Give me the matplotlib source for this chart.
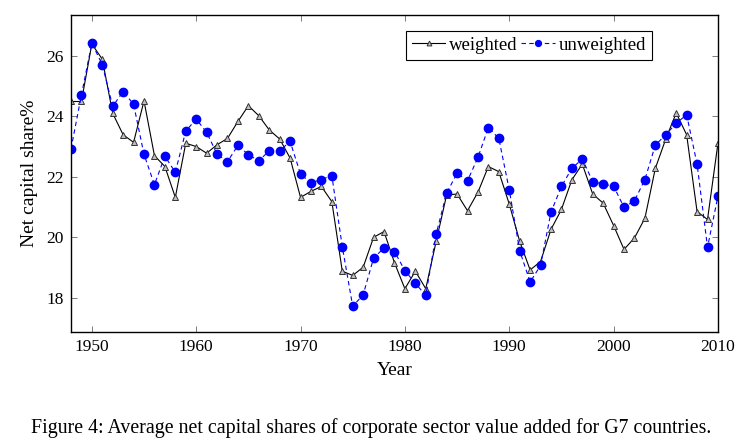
import numpy as np
import matplotlib
matplotlib.use("Agg")
import matplotlib.pyplot as plt

plt.rcParams['font.family'] = ['Liberation Serif', 'DejaVu Serif']
plt.rcParams['mathtext.fontset'] = 'stix'

years = np.arange(1948, 2011)

weighted = [24.49, 24.49, 26.39, 25.89, 24.10, 23.39, 23.14, 24.51, 22.70, 22.34,
            21.32, 23.11, 23.00, 22.78, 23.06, 23.27, 23.83, 24.35, 24.02, 23.55,
            23.25, 22.62, 21.32, 21.52, 21.68, 21.18, 18.88, 18.74, 19.01, 20.00,
            20.19, 19.16, 18.30, 18.88, 18.30, 19.87, 21.40, 21.43, 20.88, 21.49,
            22.34, 22.17, 21.10, 19.87, 18.92, 19.20, 20.26, 20.92, 21.90, 22.42,
            21.43, 21.13, 20.39, 19.60, 19.98, 20.63, 22.28, 23.25, 24.11, 23.39,
            20.85, 20.59, 23.11]

unweighted = [22.92, 24.70, 26.42, 25.71, 24.33, 24.82, 24.40, 22.74, 21.74, 22.68,
              22.15, 23.51, 23.91, 23.47, 22.75, 22.50, 23.04, 22.73, 22.53, 22.86,
              22.86, 23.17, 22.09, 21.80, 21.91, 22.04, 19.69, 17.72, 18.10, 19.31,
              19.65, 19.53, 18.90, 18.48, 18.08, 20.11, 21.46, 22.12, 21.87, 22.64,
              23.63, 23.27, 21.57, 19.56, 18.52, 19.07, 20.83, 21.68, 22.28, 22.59,
              21.84, 21.76, 21.69, 20.99, 21.21, 21.91, 23.05, 23.39, 23.77, 24.05,
              22.42, 19.67, 21.36]

xticks = [1950, 1960, 1970, 1980, 1990, 2000, 2010]
yticks = [18, 20, 22, 24, 26]

fig = plt.figure(figsize=(7.4, 4.47), dpi=100)
ax = fig.add_axes([0.0959, 0.2573, 0.8743, 0.7085])

ax.plot(years, weighted, color='black', lw=0.8, marker='^', markersize=5,
        markerfacecolor='0.75', markeredgecolor='0.2', markeredgewidth=0.7,
        label='weighted')
ax.plot(years, unweighted, color='blue', lw=0.8, ls=(0, (4, 3)), marker='o',
        markersize=6, markerfacecolor='blue', markeredgecolor='blue',
        label='unweighted')

ax.set_xlim(1948, 2010)
ax.set_ylim(16.87, 27.34)
ax.set_xticks(xticks)
ax.set_yticks(yticks)
ax.tick_params(direction='in', top=True, right=True, length=4.5, width=0.6,
               color='0.4', labelsize=12.5, pad=5)
for s in ax.spines.values():
    s.set_linewidth(1.0)
    s.set_color('black')

ax.set_xlabel('Year', fontsize=14, labelpad=5)
ax.set_ylabel('Net capital share%', fontsize=14, labelpad=6)

leg = ax.legend(loc='center', bbox_to_anchor=(0.708, 0.905), ncol=2,
                fontsize=13.5, fancybox=False, edgecolor='black', framealpha=1,
                handlelength=1.8, handletextpad=0.2, columnspacing=0.2,
                borderpad=0.3, markerscale=0.7)
leg.get_frame().set_linewidth(0.8)

fig.text(0.502, 1 - 428 / 447, 'Figure 4: Average net capital shares of corporate sector value added for G7 countries.',
         ha='center', va='center', fontsize=14.3)

fig.savefig('out.png', dpi=100)
